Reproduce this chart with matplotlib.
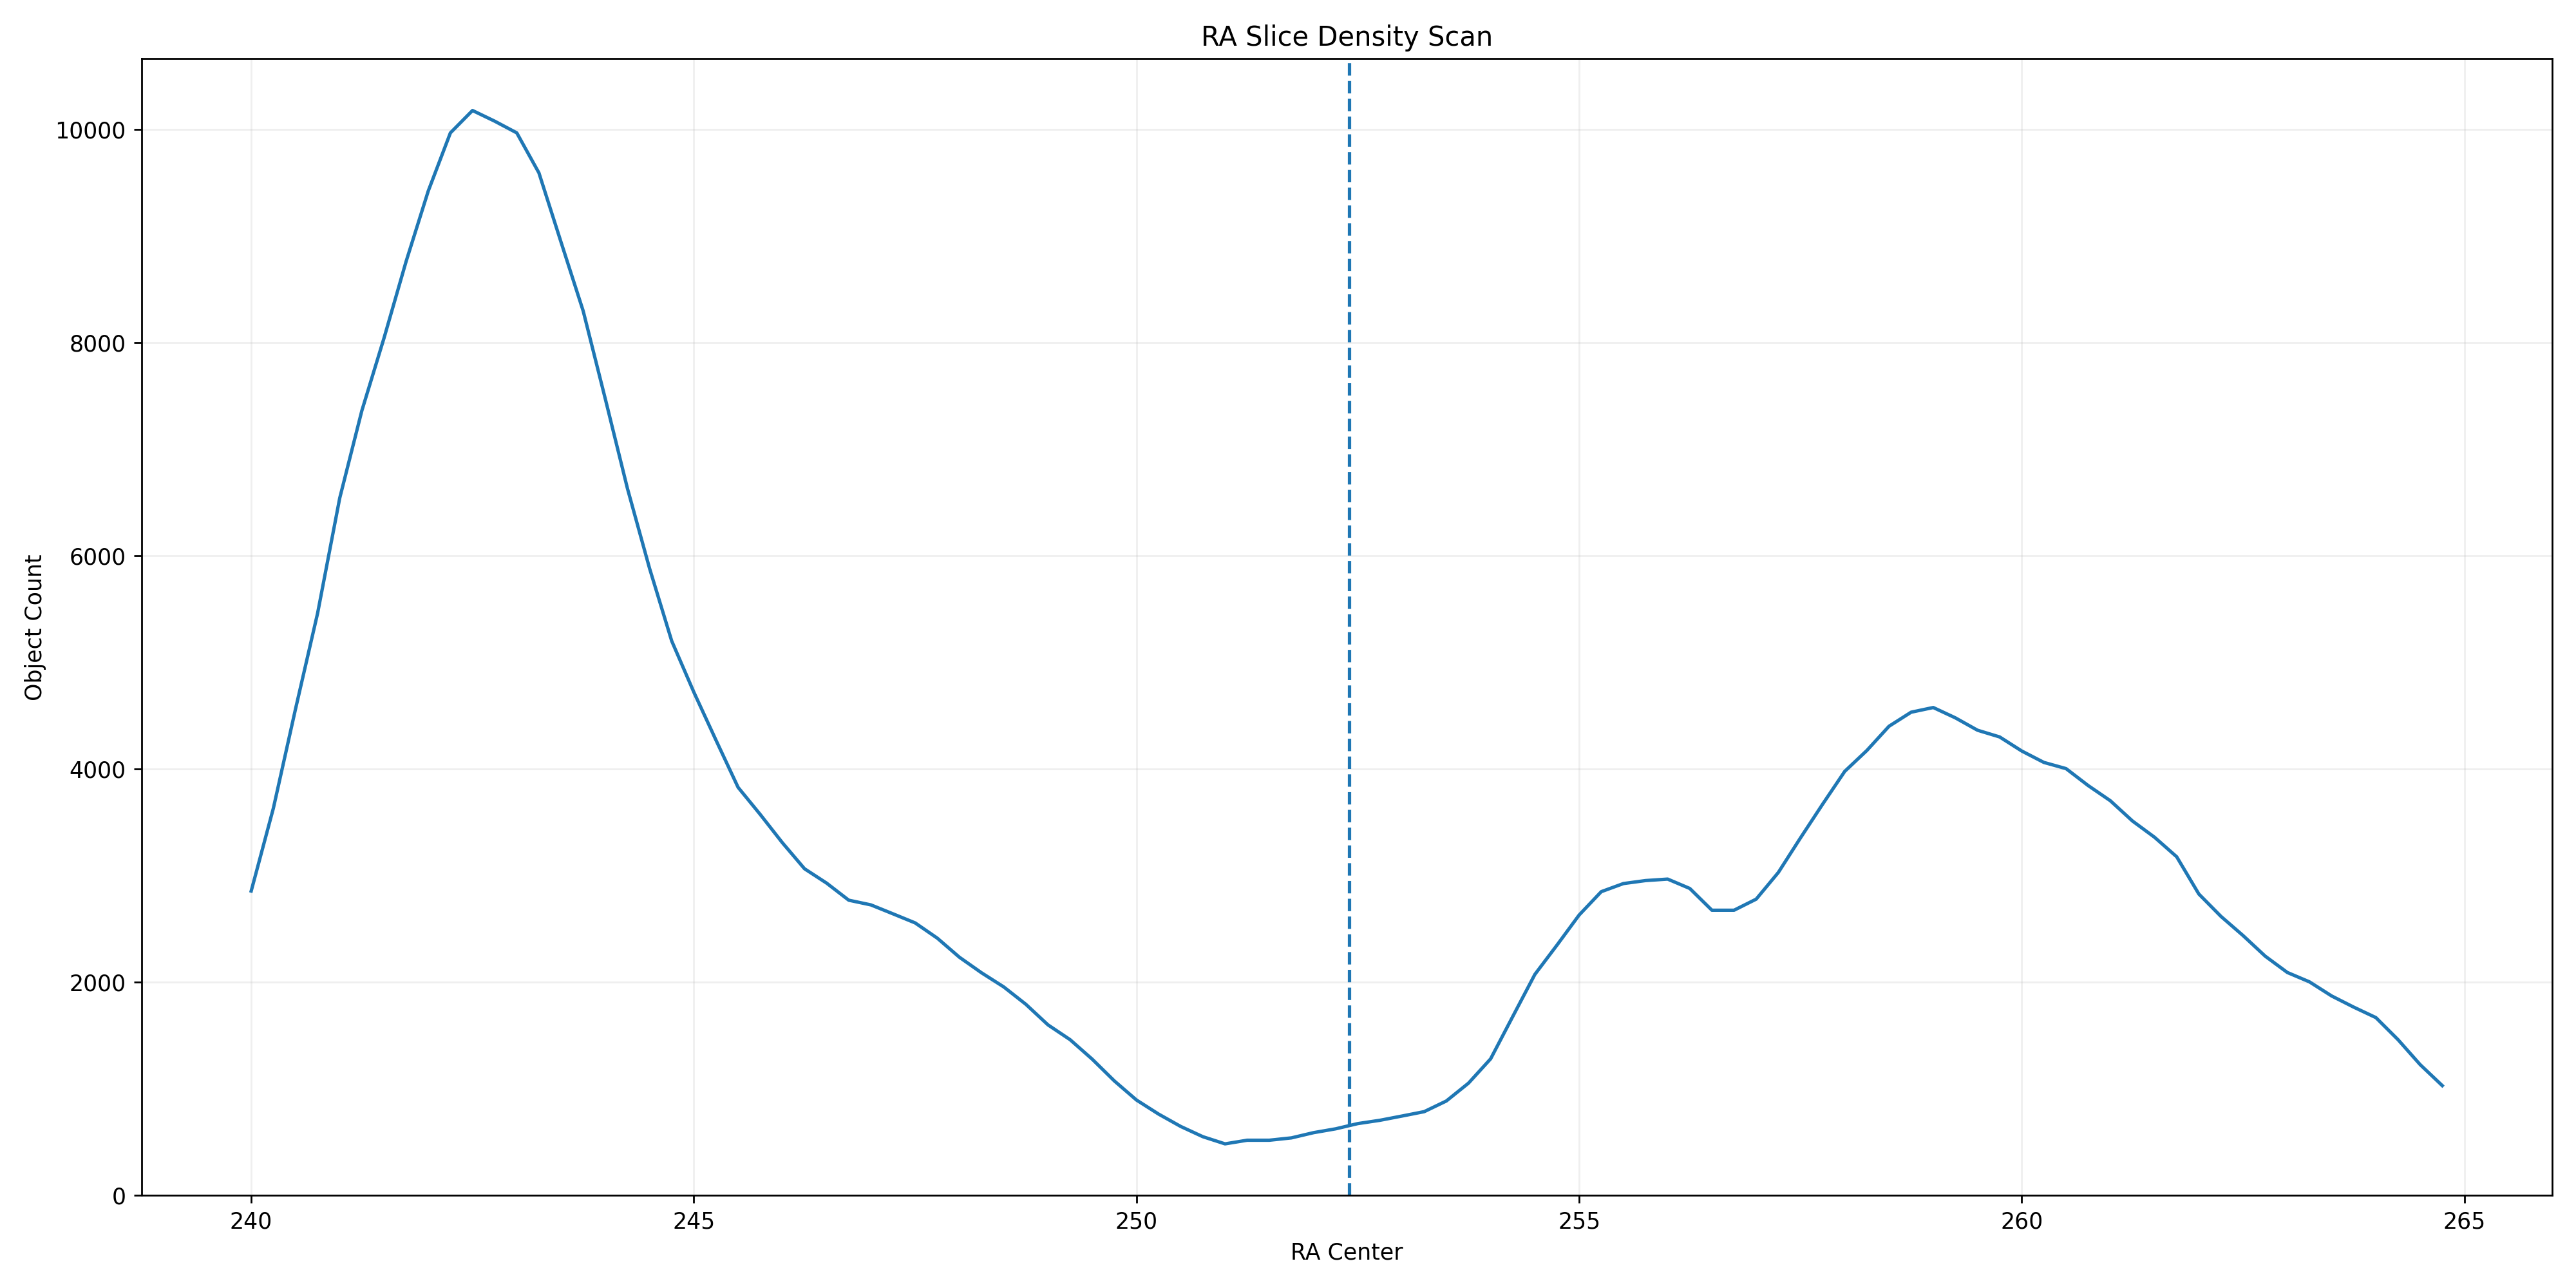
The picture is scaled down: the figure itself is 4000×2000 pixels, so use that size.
import numpy as np
import matplotlib
matplotlib.use("Agg")
import matplotlib.pyplot as plt

ra_center = [
    240.00, 240.25, 240.50, 240.75, 241.00, 241.25, 241.50, 241.75, 242.00, 242.25,
    242.50, 242.75, 243.00, 243.25, 243.50, 243.75, 244.00, 244.25, 244.50, 244.75,
    245.00, 245.25, 245.50, 245.75, 246.00, 246.25, 246.50, 246.75, 247.00, 247.25,
    247.50, 247.75, 248.00, 248.25, 248.50, 248.75, 249.00, 249.25, 249.50, 249.75,
    250.00, 250.25, 250.50, 250.75, 251.00, 251.25, 251.50, 251.75, 252.00, 252.25,
    252.50, 252.75, 253.00, 253.25, 253.50, 253.75, 254.00, 254.25, 254.50, 254.75,
    255.00, 255.25, 255.50, 255.75, 256.00, 256.25, 256.50, 256.75, 257.00, 257.25,
    257.50, 257.75, 258.00, 258.25, 258.50, 258.75, 259.00, 259.25, 259.50, 259.75,
    260.00, 260.25, 260.50, 260.75, 261.00, 261.25, 261.50, 261.75, 262.00, 262.25,
    262.50, 262.75, 263.00, 263.25, 263.50, 263.75, 264.00, 264.25, 264.50, 264.75,
]

object_count = [
    2855, 3630, 4560, 5460, 6540, 7360, 8040, 8760, 9420, 9965,
    10175, 10075, 9965, 9590, 8940, 8295, 7470, 6630, 5880, 5200,
    4720, 4270, 3827, 3573, 3308, 3064, 2929, 2769, 2725, 2641,
    2556, 2413, 2234, 2088, 1956, 1793, 1600, 1461, 1278, 1074,
    895, 763, 647, 551, 484, 518, 518, 540, 589, 625,
    674, 705, 745, 786, 886, 1053, 1281, 1678, 2073, 2348,
    2630, 2849, 2925, 2953, 2967, 2879, 2675, 2675, 2779, 3029,
    3353, 3669, 3977, 4173, 4400, 4532, 4576, 4479, 4363, 4300,
    4168, 4061, 4003, 3844, 3702, 3512, 3359, 3176, 2827, 2617,
    2437, 2244, 2091, 2003, 1871, 1766, 1668, 1461, 1227, 1030,
]

marker_ra = 252.4

fig, ax = plt.subplots(figsize=(16, 8), dpi=250)
ax.plot(ra_center, object_count, color="#1f77b4", linewidth=1.5)
ax.axvline(marker_ra, color="#1f77b4", linestyle="--", linewidth=1.5)
ax.set_ylim(bottom=0)
ax.grid(True, alpha=0.2)
ax.set_title("RA Slice Density Scan")
ax.set_xlabel("RA Center")
ax.set_ylabel("Object Count")
fig.tight_layout()
fig.savefig("out.png")
